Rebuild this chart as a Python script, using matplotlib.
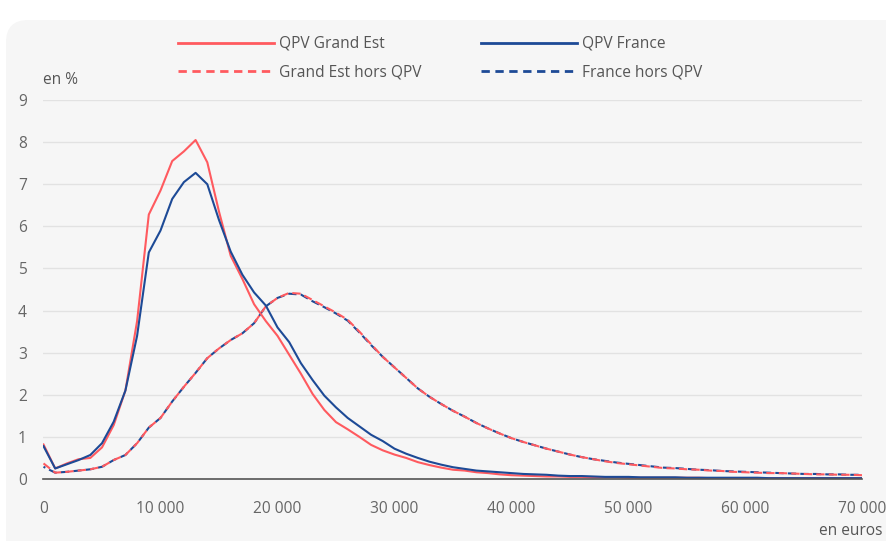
import matplotlib
matplotlib.use("Agg")
import matplotlib.pyplot as plt
from matplotlib.patches import FancyBboxPatch
from matplotlib.lines import Line2D
from matplotlib.ticker import FuncFormatter
import numpy as np

plt.rcParams['font.family'] = ['Open Sans', 'DejaVu Sans']

# Revenue (euros), step of 1000
revenus = list(range(0, 71000, 1000))

qpv_grand_est = [0.82, 0.25, 0.37, 0.47, 0.50, 0.75, 1.28, 2.10, 3.75, 6.28,
                 6.85, 7.55, 7.78, 8.05, 7.52, 6.35, 5.30, 4.75, 4.15, 3.75,
                 3.40, 2.95, 2.50, 2.02, 1.64, 1.35, 1.18, 1.00, 0.81, 0.68,
                 0.58, 0.50, 0.40, 0.33, 0.27, 0.22, 0.20, 0.16, 0.14, 0.11,
                 0.09, 0.08, 0.07, 0.06, 0.06, 0.05, 0.05, 0.04, 0.04, 0.04,
                 0.03, 0.03, 0.03, 0.03, 0.03, 0.03, 0.03, 0.02, 0.02, 0.02,
                 0.02, 0.02, 0.02, 0.02, 0.02, 0.02, 0.02, 0.02, 0.02, 0.02,
                 0.02]

qpv_france = [0.78, 0.25, 0.35, 0.45, 0.57, 0.85, 1.36, 2.10, 3.40, 5.38,
              5.90, 6.65, 7.05, 7.27, 7.00, 6.15, 5.40, 4.85, 4.43, 4.12,
              3.60, 3.25, 2.75, 2.35, 1.98, 1.70, 1.45, 1.25, 1.05, 0.90,
              0.72, 0.60, 0.50, 0.41, 0.34, 0.28, 0.24, 0.20, 0.18, 0.16,
              0.14, 0.12, 0.11, 0.10, 0.08, 0.07, 0.07, 0.06, 0.05, 0.05,
              0.05, 0.04, 0.04, 0.04, 0.04, 0.03, 0.03, 0.03, 0.03, 0.03,
              0.03, 0.03, 0.02, 0.02, 0.02, 0.02, 0.02, 0.02, 0.02, 0.02,
              0.02]

grand_est_hors_qpv = [0.37, 0.15, 0.17, 0.20, 0.23, 0.29, 0.45, 0.57, 0.85, 1.22,
                      1.45, 1.84, 2.19, 2.52, 2.87, 3.10, 3.30, 3.46, 3.70, 4.10,
                      4.30, 4.42, 4.40, 4.25, 4.10, 3.95, 3.78, 3.50, 3.20, 2.90,
                      2.65, 2.40, 2.15, 1.95, 1.78, 1.62, 1.48, 1.33, 1.20, 1.08,
                      0.97, 0.88, 0.80, 0.72, 0.65, 0.58, 0.52, 0.47, 0.42, 0.38,
                      0.35, 0.32, 0.29, 0.26, 0.25, 0.23, 0.22, 0.20, 0.19, 0.17,
                      0.16, 0.15, 0.14, 0.14, 0.13, 0.12, 0.11, 0.11, 0.10, 0.10,
                      0.09]

france_hors_qpv = [0.29, 0.15, 0.17, 0.20, 0.23, 0.29, 0.45, 0.57, 0.85, 1.22,
                   1.45, 1.84, 2.19, 2.52, 2.87, 3.10, 3.30, 3.46, 3.70, 4.10,
                   4.30, 4.40, 4.38, 4.22, 4.08, 3.93, 3.76, 3.48, 3.18, 2.90,
                   2.65, 2.40, 2.15, 1.95, 1.78, 1.62, 1.48, 1.33, 1.20, 1.08,
                   0.97, 0.88, 0.80, 0.72, 0.65, 0.58, 0.52, 0.47, 0.43, 0.39,
                   0.36, 0.33, 0.30, 0.27, 0.26, 0.24, 0.22, 0.21, 0.19, 0.18,
                   0.17, 0.16, 0.15, 0.14, 0.13, 0.12, 0.12, 0.11, 0.11, 0.10,
                   0.10]

x_ticks = [0, 10000, 20000, 30000, 40000, 50000, 60000, 70000]
y_ticks = list(range(0, 10))

RED = '#FF5A5F'
BLUE = '#1D4A96'
BG = '#F6F6F6'
FS = 11.2

W, H = 887, 541
fig = plt.figure(figsize=(W / 100, H / 100), dpi=100)
fig.patch.set_facecolor('white')

panel = FancyBboxPatch((6 / W, -30 / H), (W + 30) / W, (H + 10) / H,
                       boxstyle="round,pad=0,rounding_size=0.025",
                       transform=fig.transFigure, facecolor=BG,
                       edgecolor='none', zorder=-10, mutation_aspect=W / H)
fig.patches.append(panel)

ax = fig.add_axes([43.5 / W, 62 / H, (862.5 - 43.5) / W, (479 - 100) / H])
ax.set_facecolor(BG)
ax.set_zorder(1)

lw = 1.5
ax.plot(revenus, qpv_grand_est, color=RED, lw=lw, zorder=3)
ax.plot(revenus, grand_est_hors_qpv, color=RED, lw=lw, ls=(0, (4, 2)), zorder=3)
ax.plot(revenus, qpv_france, color=BLUE, lw=lw, zorder=4)
ax.plot(revenus, france_hors_qpv, color=BLUE, lw=lw, ls=(3, (4, 2)), zorder=2)

ax.set_xlim(0, 70000)
ax.set_ylim(0, 9)
ax.set_xticks(x_ticks)
ax.set_yticks(y_ticks)
ax.xaxis.set_major_formatter(FuncFormatter(lambda v, p: f"{int(v):,}".replace(',', ' ')))
ax.tick_params(axis='both', length=0, labelsize=FS, labelcolor='#666666')
ax.tick_params(axis='x', pad=16)
ax.tick_params(axis='y', pad=12)

ax.grid(axis='y', color='#E2E2E2', lw=1)
ax.set_axisbelow(True)
for s in ['top', 'right', 'left']:
    ax.spines[s].set_visible(False)
ax.spines['bottom'].set_color('#555555')
ax.spines['bottom'].set_linewidth(1.2)
ax.spines['bottom'].set_zorder(5)

fig.text(43 / W, 1 - 80 / H, 'en %', fontsize=FS, color='#555555',
         ha='left', va='center')
fig.text(883 / W, 1 - 531 / H, 'en euros', fontsize=FS, color='#555555',
         ha='right', va='center')

handles = [Line2D([], [], color=RED, lw=2, label='QPV Grand Est'),
           Line2D([], [], color=RED, lw=2, ls=(0, (3, 2)), label='Grand Est hors QPV'),
           Line2D([], [], color=BLUE, lw=2, label='QPV France'),
           Line2D([], [], color=BLUE, lw=2, ls=(0, (3, 2)), label='France hors QPV')]
leg = fig.legend(handles=handles, ncol=2, loc='upper left',
                 bbox_to_anchor=(178 / W, 1 - 36 / H), frameon=False,
                 fontsize=FS, labelcolor='#555555', handlelength=6.2,
                 handletextpad=0.3, columnspacing=3.8, labelspacing=0.8,
                 borderpad=0, borderaxespad=0)

fig.savefig('out.png', dpi=100, facecolor='white')
